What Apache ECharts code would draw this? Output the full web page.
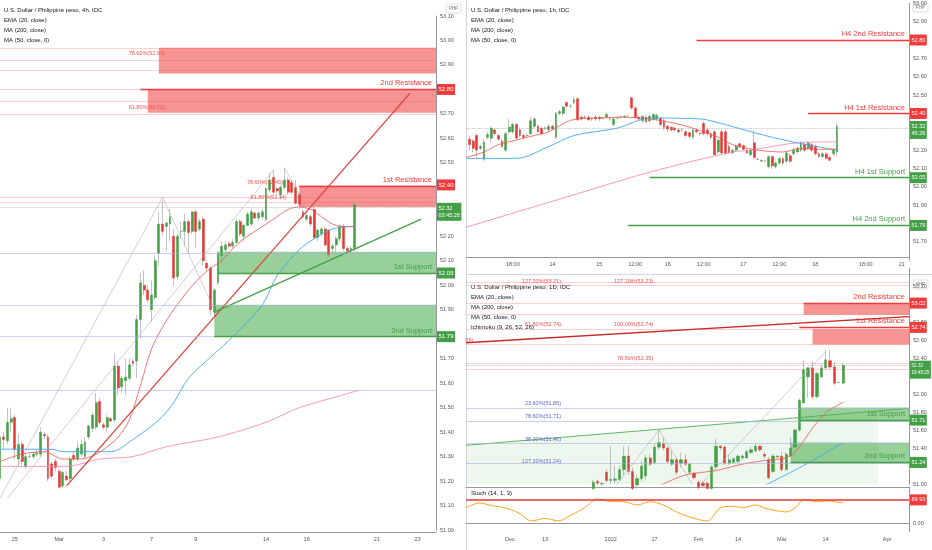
<!DOCTYPE html>
<html>
<head>
<meta charset="utf-8">
<script src="https://cdn.jsdelivr.net/npm/echarts@6/dist/echarts.min.js"></script>
<style>
  html, body { margin: 0; padding: 0; background: #fff; }
  #main { width: 932px; height: 550px; }
</style>
</head>
<body>
<div id="main"></div>
<script>
// ---- 4h panel (left) ----
// candles: [open, close, low, high], one per 4h slot
const h4Candles = [
  [51.21,51.38,51.19,51.41],[51.38,51.37,51.33,51.40],[51.365,51.44,51.35,51.50],[51.44,51.455,51.40,51.50],[51.46,51.33,51.29,51.47],
  [51.29,51.35,51.26,51.39],[51.35,51.28,51.26,51.36],[51.26,51.30,51.25,51.31],[51.30,51.30,51.295,51.31],[51.30,51.31,51.29,51.32],
  [51.31,51.315,51.30,51.33],[51.31,51.40,51.30,51.42],[51.39,51.385,51.37,51.40],[51.38,51.21,51.20,51.39],[51.27,51.22,51.21,51.28],
  [51.28,51.255,51.24,51.29],[51.24,51.175,51.17,51.25],[51.18,51.235,51.17,51.24],[51.22,51.205,51.20,51.24],[51.21,51.29,51.20,51.30],
  [51.305,51.29,51.28,51.32],[51.29,51.335,51.28,51.36],[51.31,51.35,51.30,51.37],[51.30,51.36,51.29,51.38],[51.38,51.425,51.37,51.43],
  [51.415,51.47,51.40,51.48],[51.42,51.52,51.41,51.56],[51.525,51.44,51.43,51.54],[51.43,51.42,51.41,51.44],[51.42,51.46,51.40,51.47],
  [51.455,51.445,51.44,51.46],[51.45,51.67,51.44,51.72],[51.67,51.58,51.55,51.69],[51.585,51.62,51.56,51.63],[51.61,51.625,51.55,51.70],
  [51.62,51.675,51.61,51.70],[51.69,51.68,51.67,51.70],[51.69,51.86,51.62,51.88],[51.86,52.01,51.78,52.05],[52.00,51.98,51.96,52.06],
  [51.98,51.94,51.93,52.00],[51.90,51.96,51.85,52.02],[51.95,52.10,51.94,52.12],[52.13,52.25,52.08,52.30],[52.25,52.22,52.20,52.35],
  [52.24,52.255,52.14,52.26],[52.25,52.28,52.18,52.31],[52.20,52.03,52.00,52.23],[52.035,52.20,52.02,52.21],[52.22,52.22,52.19,52.26],
  [52.22,52.26,52.16,52.29],[52.26,52.215,52.13,52.27],[52.22,52.30,52.21,52.30],[52.30,52.22,52.15,52.31],[52.23,52.26,52.22,52.27],
  [52.27,52.10,52.08,52.28],[52.09,52.07,52.06,52.10],[52.07,51.90,51.88,52.08],[51.89,51.98,51.87,51.99],[52.01,52.13,52.00,52.14],
  [52.12,52.16,52.09,52.18],[52.145,52.165,52.13,52.18],[52.17,52.16,52.15,52.18],[52.16,52.175,52.15,52.19],[52.175,52.26,52.17,52.27],
  [52.26,52.21,52.20,52.27],[52.20,52.245,52.18,52.25],[52.245,52.29,52.24,52.30],[52.25,52.30,52.24,52.31],[52.295,52.275,52.27,52.30],
  [52.275,52.295,52.26,52.30],[52.28,52.30,52.27,52.31],[52.27,52.395,52.26,52.40],[52.39,52.43,52.38,52.46],[52.44,52.38,52.37,52.47],
  [52.395,52.385,52.37,52.40],[52.37,52.40,52.35,52.41],[52.40,52.43,52.39,52.48],[52.43,52.38,52.37,52.44],[52.42,52.38,52.37,52.43],
  [52.40,52.335,52.33,52.43],[52.37,52.33,52.31,52.38],[52.30,52.28,52.27,52.31],[52.27,52.285,52.26,52.30],[52.28,52.25,52.24,52.29],
  [52.31,52.195,52.19,52.32],[52.195,52.225,52.18,52.23],[52.21,52.23,52.20,52.24],[52.23,52.165,52.16,52.24],[52.225,52.125,52.11,52.23],
  [52.15,52.16,52.13,52.17],[52.165,52.19,52.13,52.20],[52.19,52.24,52.18,52.25],[52.24,52.15,52.14,52.25],[52.15,52.14,52.13,52.16],
  [52.14,52.15,52.13,52.16],[52.15,52.33,52.14,52.34]
];
const h4Ema20 = [[0,51.28],[6,51.31],[12,51.32],[17,51.29],[22,51.29],[26,51.31],[29,51.34],[32,51.38],[35,51.45],[38,51.59],[41,51.74],[44,51.83],[47,51.90],[51,51.98],[54,52.03],[57,52.07],[60,52.10],[63,52.15],[66,52.19],[70,52.23],[74,52.27],[78,52.31],[81,52.32],[84,52.31],[87,52.28],[90,52.25],[93,52.24],[96,52.24]];
const h4Ma50 = [[0,51.33],[14,51.33],[17,51.32],[30,51.32],[36,51.37],[43,51.45],[47,51.52],[51,51.62],[58,51.72],[63,51.79],[71,51.92],[75,52.04],[81,52.145],[85,52.19],[90,52.23],[96,52.24]];
const h4Ma200 = [[0,51.26],[18,51.26],[27,51.29],[36,51.30],[45,51.34],[59,51.38],[72,51.44],[81,51.50],[90,51.54],[97,51.57]];
const h4TickSlots = [4,16,28,41,53,72,83,102,113];
const h4TickText = ['25','Mar','3','7','9','14','16','21','23'];
const h4RedTrend = [[18,51.18],[111,52.785]];
const h4GreenTrend = [[58,51.89],[114,52.27]];
const h4GreyA = [[0,51.13],[44,52.36],[58,51.90]];
const h4GreyB = [[2,51.13],[74,52.47]];
const h4GreyC = [[77,52.48],[81,52.37]];
// zones: [fromSlot, top, bottom]
const h4RedZones = [[43,52.97,52.865],[40,52.80,52.705],[81,52.406,52.32]];
const h4GreenZones = [[59,52.137,52.05],[58,51.92,51.79]];
const h4PinkLines = [52.97,52.92,52.88,52.80,52.75,52.705,52.357,52.335];
const h4BlueLines = [52.135,51.92,51.79,51.573];
const h4LevelNames = ['2nd Resistance','1st Resistance','1st Support','2nd Support'];
const h4LevelValues = [52.80,52.406,52.05,51.79];
const h4LevelFrom = [38,81,59,58];
const h4LevelTags = ['52.80','52.40','52.05','51.79'];
const h4FibText = ['78.60%(52.93)','61.80%(52.70)','78.60%(52.40)','61.80%(52.34)'];
const h4FibAt = [[45,52.945],[45,52.725],[77,52.42],[78,52.357]];

// ---- 1h panel (top right) ----
const h1Candles = [
  [52.26,52.23,52.20,52.28],[52.25,52.21,52.19,52.26],[52.28,52.20,52.16,52.29],[52.21,52.22,52.20,52.23],[52.15,52.245,52.14,52.26],
  [52.27,52.285,52.26,52.30],[52.265,52.32,52.24,52.33],[52.31,52.29,52.28,52.32],[52.28,52.26,52.25,52.29],[52.25,52.22,52.21,52.26],
  [52.20,52.29,52.19,52.30],[52.30,52.325,52.29,52.37],[52.30,52.34,52.29,52.35],[52.34,52.265,52.26,52.35],[52.31,52.28,52.27,52.32],
  [52.28,52.27,52.26,52.29],[52.28,52.28,52.27,52.29],[52.29,52.36,52.28,52.38],[52.33,52.37,52.32,52.38],[52.33,52.30,52.29,52.34],
  [52.32,52.29,52.28,52.33],[52.32,52.32,52.31,52.33],[52.31,52.33,52.30,52.34],[52.33,52.315,52.31,52.34],[52.27,52.40,52.26,52.41],
  [52.40,52.41,52.39,52.42],[52.40,52.435,52.39,52.44],[52.46,52.44,52.43,52.46],[52.44,52.44,52.43,52.45],[52.46,52.475,52.45,52.49],
  [52.48,52.365,52.36,52.49],[52.38,52.37,52.36,52.39],[52.38,52.38,52.37,52.39],[52.38,52.365,52.36,52.39],[52.37,52.375,52.36,52.38],
  [52.38,52.37,52.36,52.39],[52.37,52.38,52.36,52.39],[52.375,52.375,52.37,52.38],[52.38,52.395,52.37,52.41],[52.37,52.37,52.36,52.38],
  [52.34,52.37,52.33,52.38],[52.375,52.375,52.37,52.38],[52.38,52.38,52.375,52.385],[52.38,52.385,52.375,52.39],[52.385,52.385,52.38,52.39],
  [52.485,52.43,52.42,52.49],[52.43,52.38,52.37,52.44],[52.38,52.37,52.36,52.39],[52.36,52.385,52.35,52.39],[52.38,52.355,52.35,52.39],
  [52.36,52.385,52.35,52.39],[52.37,52.395,52.36,52.40],[52.37,52.39,52.36,52.40],[52.375,52.34,52.33,52.38],[52.36,52.325,52.31,52.37],
  [52.33,52.315,52.30,52.34],[52.325,52.31,52.30,52.33],[52.32,52.31,52.30,52.33],[52.31,52.30,52.29,52.32],[52.31,52.31,52.30,52.32],
  [52.30,52.28,52.27,52.31],[52.295,52.275,52.26,52.30],[52.27,52.31,52.26,52.32],[52.31,52.30,52.29,52.32],[52.29,52.29,52.28,52.30],
  [52.345,52.29,52.28,52.36],[52.31,52.29,52.28,52.32],[52.29,52.27,52.26,52.30],[52.30,52.175,52.17,52.31],[52.19,52.255,52.18,52.26],
  [52.30,52.185,52.18,52.31],[52.30,52.185,52.17,52.31],[52.22,52.185,52.18,52.23],[52.185,52.20,52.18,52.21],[52.20,52.22,52.19,52.23],
  [52.235,52.22,52.21,52.24],[52.225,52.205,52.20,52.23],[52.20,52.185,52.18,52.21],[52.175,52.20,52.17,52.21],[52.24,52.16,52.15,52.31],
  [52.15,52.15,52.145,52.155],[52.14,52.145,52.135,52.15],[52.14,52.14,52.135,52.145],[52.11,52.165,52.10,52.17],[52.165,52.115,52.10,52.17],
  [52.11,52.13,52.10,52.14],[52.13,52.155,52.12,52.16],[52.155,52.13,52.12,52.16],[52.14,52.185,52.13,52.19],[52.17,52.14,52.13,52.18],
  [52.18,52.20,52.17,52.21],[52.19,52.21,52.18,52.22],[52.20,52.24,52.19,52.25],[52.23,52.20,52.19,52.24],[52.21,52.24,52.20,52.25],
  [52.23,52.20,52.19,52.24],[52.22,52.18,52.17,52.23],[52.18,52.165,52.16,52.19],[52.165,52.18,52.16,52.19],[52.18,52.155,52.15,52.19],
  [52.16,52.145,52.14,52.17],[52.18,52.20,52.17,52.21],[52.19,52.33,52.17,52.35]
];
const h1Ema20 = [[0,52.16],[5,52.19],[9,52.23],[14,52.255],[19,52.28],[23,52.30],[28,52.355],[31,52.37],[37,52.375],[43,52.38],[51,52.37],[60,52.337],[70,52.27],[74,52.23],[81,52.20],[88,52.19],[93,52.21],[97,52.205],[103,52.205]];
const h1Ma50 = [[0,52.155],[14,52.155],[23,52.22],[30,52.28],[42,52.32],[51,52.375],[65,52.37],[69,52.355],[83,52.28],[92,52.24],[103,52.20]];
const h1Ma200 = [[0,51.78],[28,51.945],[51,52.08],[74,52.19],[79,52.20],[92,52.24],[103,52.245]];
const h1TickSlots = [13,24,37,47,56,66,77,87,97,111,121];
const h1TickText = ['18:00','14','15','12:00','16','12:00','17','12:00','18','18:00','21'];
const h1LevelNames = ['H4 2nd Resistance','H4 1st Resistance','H4 1st Support','H4 2nd Support'];
const h1LevelValues = [52.80,52.40,52.05,51.79];
const h1LevelFrom = [64,95,51,45];
const h1LevelTags = ['52.80','52.40','52.05','51.79'];

// ---- 1D panel (bottom right) ----
const d1FirstSlot = 29;
const d1Candles = [
  [50.95,51.02,50.93,51.05],[51.03,51.01,50.99,51.04],[51.00,51.005,50.98,51.02],[51.13,51.04,51.02,51.16],[51.04,51.05,51.00,51.42],
  [51.04,51.055,51.00,51.20],[51.05,51.16,51.03,51.20],[51.16,51.31,51.10,51.42],[51.31,51.14,51.10,51.42],[51.14,50.95,50.93,51.18],
  [50.99,51.06,50.95,51.10],[51.06,51.20,51.03,51.26],[51.09,51.29,51.05,51.32],[51.29,51.22,51.20,51.33],[51.24,51.41,51.22,51.45],
  [51.41,51.46,51.38,51.60],[51.45,51.40,51.37,51.52],[51.40,51.25,51.22,51.42],[51.22,51.27,51.20,51.37],[51.27,51.13,51.10,51.30],
  [51.23,51.27,51.18,51.35],[51.27,51.22,51.20,51.33],[51.13,51.22,51.10,51.24],[51.12,51.07,51.05,51.14],[51.02,50.96,50.94,51.04],
  [51.01,50.98,50.96,51.03],[51.01,50.95,50.94,51.03],[50.95,51.19,50.94,51.21],[51.19,51.42,51.17,51.50],[51.42,51.40,51.38,51.43],
  [51.41,51.23,51.21,51.43],[51.23,51.27,51.21,51.33],[51.24,51.28,51.23,51.30],[51.25,51.31,51.24,51.33],[51.29,51.31,51.27,51.33],
  [51.29,51.36,51.28,51.38],[51.35,51.38,51.33,51.42],[51.37,51.42,51.35,51.45],[51.42,51.38,51.36,51.43],[51.33,51.31,51.28,51.36],
  [51.27,51.07,51.05,51.30],[51.14,51.31,51.12,51.33],[51.30,51.31,51.29,51.32],[51.31,51.16,51.14,51.36],[51.16,51.33,51.15,51.35],
  [51.31,51.40,51.30,51.52],[51.41,51.60,51.40,51.62],[51.60,51.93,51.58,51.95],[51.90,52.27,51.89,52.37],[52.19,52.29,51.96,52.30],
  [52.29,51.97,51.94,52.36],[51.97,52.23,51.95,52.25],[52.19,52.29,52.18,52.33],[52.29,52.38,52.27,52.49],[52.37,52.30,52.28,52.49],
  [52.30,52.12,52.10,52.36],[52.13,52.13,52.12,52.14],[52.12,52.32,52.11,52.34]
];
const d1Ema20 = [[40,50.90],[44,50.98],[50,51.10],[57,51.15],[63,51.22],[68,51.26],[73,51.29],[75,51.35],[77,51.48],[79,51.62],[82,51.79],[86,51.91]];
const d1Ma50 = [[66,50.93],[76,51.18],[80,51.29],[86,51.46]];
const d1CloudEdge = [[0,51.43],[101,51.84]];
const d1CloudFill = [[0,51.43],[94,51.80]];
const d1Trend = [[0,52.57],[101,52.86]];
const d1GreyA = [[34,50.97],[44,51.60],[52,50.97]];
const d1GreyB = [[53,50.97],[82,52.47]];
const d1Stoch = [[0,59],[3,78],[6,67],[9,59],[12,39],[15,8],[18,18],[21,8],[24,31],[27,59],[30,94],[33,83],[36,83],[39,70],[42,83],[45,70],[48,43],[52,18],[55,8],[58,59],[61,65],[63,59],[66,70],[68,59],[71,47],[73,43],[75,59],[77,90],[80,83],[83,86],[84,83],[86,78]];
const d1TickSlots = [10,18,33,43,53,62,72,82,96];
const d1TickText = ['Dec','13','2022','17','Feb','14','Mar','14','Apr'];
const d1RedZones = [[77,53.01,52.88],[79,52.72,52.55]];
const d1GreenZones = [[76,51.85,51.71],[74,51.46,51.24]];
const d1PinkLines = [53.245,53.21,53.01,52.89,52.72,52.545,52.345,52.28];
const d1BlueLines = [51.84,51.70,51.455,51.233];
const d1LevelNames = ['2nd Resistance','1st Resistance','1st Support','2nd Support'];
const d1LevelValues = [53.01,52.74,51.71,51.24];
const d1LevelFrom = [77,76,76,74];
const d1LevelTags = ['53.02','52.74','51.71','51.24'];
const d1FibText = ['127.20%(53.23)','127.20%(53.21)','61.80%(52.74)','100.00%(52.74)','56)','78.60%(52.35)'];
const d1FibAt = [[43,53.255],[22,53.255],[22,52.767],[43,52.767],[2,52.60],[43,52.39]];
const d1BlueFibText = ['23.60%(51.85)','78.60%(51.71)','38.20%(51.46)','127.20%(51.24)'];
const d1BlueFibAt = [[22,51.89],[22,51.745],[22,51.49],[22,51.245]];

// ---------------------------------------------------------------
const FONT = '"Liberation Sans", Arial, sans-serif';
const UP = '#43a047', DOWN = '#e53935', RED = '#ef3b3b', GREEN = '#43a047';
const H4_N = 119, H1_N = 124, D1_N = 102;

function makeCats(n, slots, texts) {
  const c = new Array(n).fill('');
  slots.forEach((s, i) => { c[s] = texts[i]; });
  return c;
}
function bodyOnly(d) {
  return d === '-' ? '-' : [d[0], d[1], Math.min(d[0], d[1]), Math.max(d[0], d[1])];
}
// price tag on the axis: an invisible line whose end label is a filled box
function tag(value, text, color, size) {
  return { yAxis: value, lineStyle: { color: 'rgba(0,0,0,0)', width: 1, type: 'solid' },
    label: { show: true, position: 'end', distance: 1, formatter: text, color: '#fff',
      backgroundColor: color, padding: [2, 1.5, 2, 1.5], fontSize: size || 6, lineHeight: 7, fontFamily: FONT } };
}
function thin(value, color) {
  return { yAxis: value, lineStyle: { color: color, width: 0.6, type: 'solid' }, label: { show: false } };
}
function level(from, to, value, color, text) {
  return [{ coord: [from, value], lineStyle: { color: color, width: 1.3, type: 'solid' },
    label: { show: true, position: 'insideEndTop', distance: [4, 2], formatter: text, color: color,
      fontSize: 7.5, fontFamily: FONT } }, { coord: [to, value] }];
}
function zone(from, to, top, bottom, color) {
  return [{ coord: [from, top], itemStyle: { color: color } }, { coord: [to, bottom] }];
}
function fib(at, text, color) {
  return { coord: at, symbol: 'circle', symbolSize: 1, itemStyle: { color: 'rgba(0,0,0,0)' },
    label: { show: true, position: 'left', distance: 1, formatter: text, color: color, fontSize: 5.5, fontFamily: FONT } };
}
function candles(data, xi, yi, barW, extra) {
  const wick = { type: 'candlestick', xAxisIndex: xi, yAxisIndex: yi, data: data, barWidth: 0.7, clip: true, silent: true,
    itemStyle: { color: '#a8a8a8', color0: '#a8a8a8', borderColor: '#a8a8a8', borderColor0: '#a8a8a8', borderWidth: 0.7 } };
  const body = Object.assign({ type: 'candlestick', xAxisIndex: xi, yAxisIndex: yi, data: data.map(bodyOnly),
    barWidth: barW, clip: true, silent: true,
    itemStyle: { color: UP, color0: DOWN, borderColor: UP, borderColor0: DOWN, borderWidth: 0.5 } }, extra);
  return [wick, body];
}
function line(data, xi, yi, color, width, extra) {
  return Object.assign({ type: 'line', xAxisIndex: xi, yAxisIndex: yi, data: data, symbol: 'none', smooth: 0.3,
    clip: true, silent: true, lineStyle: { color: color, width: width } }, extra || {});
}
function straight(data, xi, yi, color, width) {
  return line(data, xi, yi, color, width, { smooth: false });
}

const REDZ = 'rgba(239,83,80,0.62)', GREENZ = 'rgba(76,175,80,0.58)';
const PINK = 'rgba(239,83,80,0.45)', LAV = '#aab2e0';
const priceLine = { yAxis: 52.32, lineStyle: { color: '#9598a1', width: 0.6, type: 'dotted' }, label: { show: false } };

// ---- markers per panel ----
const h4Marks = {
  markArea: { silent: true, data:
    h4RedZones.map(z => zone(z[0], H4_N - 1, z[1], z[2], REDZ))
      .concat(h4GreenZones.map(z => zone(z[0], H4_N - 1, z[1], z[2], GREENZ))) },
  markLine: { silent: true, symbol: ['none', 'none'], animation: false, data:
    h4PinkLines.map(v => thin(v, PINK))
      .concat(h4BlueLines.map(v => thin(v, LAV)))
      .concat([priceLine])
      .concat(h4LevelNames.map((n, i) => level(h4LevelFrom[i], H4_N - 1, h4LevelValues[i], i < 2 ? RED : GREEN, n)))
      .concat(h4LevelTags.map((t, i) => tag(h4LevelValues[i], t, i < 2 ? RED : GREEN)))
      .concat([tag(52.302, '52.32\n03:45:26', GREEN, 5.5)]) },
  markPoint: { silent: true, data: h4FibText.map((t, i) => fib(h4FibAt[i], t, '#ef5350')) }
};
const h1Marks = {
  markLine: { silent: true, symbol: ['none', 'none'], animation: false, data:
    [priceLine]
      .concat(h1LevelNames.map((n, i) => level(h1LevelFrom[i], H1_N - 1, h1LevelValues[i], i < 2 ? RED : GREEN, n)))
      .concat(h1LevelTags.map((t, i) => tag(h1LevelValues[i], t, i < 2 ? RED : GREEN, 5.5)))
      .concat([tag(52.307, '52.32\n45:26', GREEN, 5.5)]) }
};
const d1Marks = {
  markArea: { silent: true, data:
    d1RedZones.map(z => zone(z[0], D1_N - 1, z[1], z[2], REDZ))
      .concat(d1GreenZones.map(z => zone(z[0], D1_N - 1, z[1], z[2], GREENZ))) },
  markLine: { silent: true, symbol: ['none', 'none'], animation: false, data:
    d1PinkLines.map(v => thin(v, PINK))
      .concat(d1BlueLines.map(v => thin(v, LAV)))
      .concat([priceLine])
      .concat(d1LevelNames.map((n, i) => level(d1LevelFrom[i], D1_N - 1, d1LevelValues[i], i < 2 ? RED : GREEN, n)))
      .concat(d1LevelTags.map((t, i) => tag(d1LevelValues[i], t, i < 2 ? RED : GREEN, 5.5)))
      .concat([tag(52.267, '52.32\n19:45:25', GREEN, 4.6)]) },
  markPoint: { silent: true, data:
    d1FibText.map((t, i) => fib(d1FibAt[i], t, '#ef5350'))
      .concat(d1BlueFibText.map((t, i) => fib(d1BlueFibAt[i], t, '#5c6bc0'))) }
};

const h1Data = ['-'].concat(h1Candles);
const d1Data = new Array(d1FirstSlot).fill('-').concat(d1Candles);

const AX = '#9598a1', LBL = '#555';
function catAxis(gi, n, slots, texts, offset, showLabels) {
  return { type: 'category', gridIndex: gi, data: makeCats(n, slots, texts), boundaryGap: false, offset: offset,
    axisLine: { show: true, lineStyle: { color: AX, width: 1 } }, axisTick: { show: false },
    axisLabel: { show: showLabels, interval: 0, color: LBL, fontSize: 5.5, fontFamily: FONT, margin: 4 },
    splitLine: { show: false } };
}
function valAxis(gi, min, max, interval, labelExtra) {
  return { type: 'value', gridIndex: gi, position: 'right', min: min, max: max, interval: interval, scale: true,
    axisLine: { show: true, lineStyle: { color: AX, width: 1 } }, axisTick: { show: false },
    axisLabel: Object.assign({ color: LBL, fontSize: 5.5, fontFamily: FONT, margin: 4, formatter: v => v.toFixed(2) }, labelExtra || {}),
    splitLine: { show: false } };
}

function titleLines(x, y0, lines) {
  return lines.map((t, i) => ({ type: 'text', x: x, y: y0 + i * 10, silent: true,
    style: { text: t, fill: '#131722', font: '6px ' + FONT, verticalAlign: 'middle' } }));
}
function phpBox(x, y) {
  return [{ type: 'rect', shape: { x: x, y: y, width: 15, height: 9, r: 2 }, silent: true,
            style: { fill: '#fff', stroke: '#c8cad0', lineWidth: 0.6 } },
          { type: 'text', x: x + 7.5, y: y + 4.5, silent: true,
            style: { text: 'PHP', fill: '#777', font: '4.5px ' + FONT, align: 'center', verticalAlign: 'middle' } }];
}

const chart = echarts.init(document.getElementById('main'), null, { renderer: 'canvas' });
chart.setOption({
  animation: false,
  backgroundColor: '#ffffff',
  grid: [
    { left: 0, top: 16, width: 436, height: 514, containLabel: false, outerBoundsMode: 'none' },
    { left: 466, top: 3.3, width: 443, height: 257, containLabel: false, outerBoundsMode: 'none' },
    { left: 466, top: 268, width: 443, height: 216, containLabel: false, outerBoundsMode: 'none' },
    { left: 466, top: 487, width: 443, height: 45, containLabel: false, outerBoundsMode: 'none' }
  ],
  xAxis: [
    catAxis(0, H4_N, h4TickSlots, h4TickText, 2, true),
    catAxis(1, H1_N, h1TickSlots, h1TickText, -3, true),
    catAxis(2, D1_N, [], [], 3, false),
    catAxis(3, D1_N, d1TickSlots, d1TickText, 0, true)
  ],
  yAxis: [
    valAxis(0, 51.0, 53.1, 0.1),
    valAxis(1, 51.6, 53.0, 0.1, { showMinLabel: false }),
    valAxis(2, 51.0, 53.4, 0.2, { showMaxLabel: false }),
    valAxis(3, -35, 140, 35, { formatter: v => (v === 0 ? '0.00' : '') })
  ],
  series: [].concat(
    // 4h
    [straight(h4GreyA, 0, 0, '#b0b0b0', 0.6), straight(h4GreyB, 0, 0, '#b0b0b0', 0.6), straight(h4GreyC, 0, 0, '#b0b0b0', 0.6)],
    [line(h4Ma200, 0, 0, '#f48fb1', 0.9), line(h4Ma50, 0, 0, '#42a5f5', 0.9), line(h4Ema20, 0, 0, '#ef5350', 0.8)],
    candles(h4Candles, 0, 0, 2.4, h4Marks),
    [straight(h4RedTrend, 0, 0, '#e53935', 1.2), straight(h4GreenTrend, 0, 0, '#43a047', 1.2)],
    // 1h
    [line(h1Ma200, 1, 1, '#f48fb1', 0.9), line(h1Ma50, 1, 1, '#42a5f5', 0.9), line(h1Ema20, 1, 1, '#ef5350', 0.8)],
    candles(h1Data, 1, 1, 2.3, h1Marks),
    // 1D
    [line(d1CloudFill, 2, 2, 'rgba(0,0,0,0)', 0, { smooth: false, areaStyle: { color: 'rgba(76,175,80,0.14)' } }),
     straight(d1CloudEdge, 2, 2, '#4caf50', 0.9),
     straight(d1GreyA, 2, 2, '#b0b0b0', 0.6), straight(d1GreyB, 2, 2, '#b0b0b0', 0.6),
     line(d1Ma50, 2, 2, '#42a5f5', 0.9), line(d1Ema20, 2, 2, '#ef5350', 0.8),
     straight(d1Trend, 2, 2, '#c62828', 1.4)],
    candles(d1Data, 2, 2, 2.8, d1Marks),
    // stoch
    [line(d1Stoch, 3, 3, '#ff9800', 0.9, {
      markLine: { silent: true, symbol: ['none', 'none'], animation: false, data: [
        { yAxis: 89.93, lineStyle: { color: '#e53935', width: 1.5, type: 'solid' }, label: { show: false } },
        tag(89.93, '89.93', RED, 5.5)] } })]
  ),
  graphic: [].concat(
    [{ type: 'line', silent: true, shape: { x1: 466.5, y1: 0, x2: 466.5, y2: 550 }, style: { stroke: '#d1d4dc', lineWidth: 1 } },
     { type: 'line', silent: true, shape: { x1: 466, y1: 274.5, x2: 932, y2: 274.5 }, style: { stroke: '#d1d4dc', lineWidth: 1 } }],
    titleLines(4, 10, ['U.S. Dollar / Philippine peso, 4h, IDC', 'EMA (20, close)', 'MA (200, close)', 'MA (50, close, 0)']),
    titleLines(471, 10, ['U.S. Dollar / Philippine peso, 1h, IDC', 'EMA (20, close)', 'MA (200, close)', 'MA (50, close, 0)']),
    titleLines(471, 287, ['U.S. Dollar / Philippine peso, 1D, IDC', 'EMA (20, close)', 'MA (200, close)', 'MA (50, close, 0)', 'Ichimoku (9, 26, 52, 26)']),
    titleLines(471, 493, ['Stoch (14, 1, 3)']),
    phpBox(446, 4), phpBox(913, 3), phpBox(913, 280)
  )
});
</script>
</body>
</html>
